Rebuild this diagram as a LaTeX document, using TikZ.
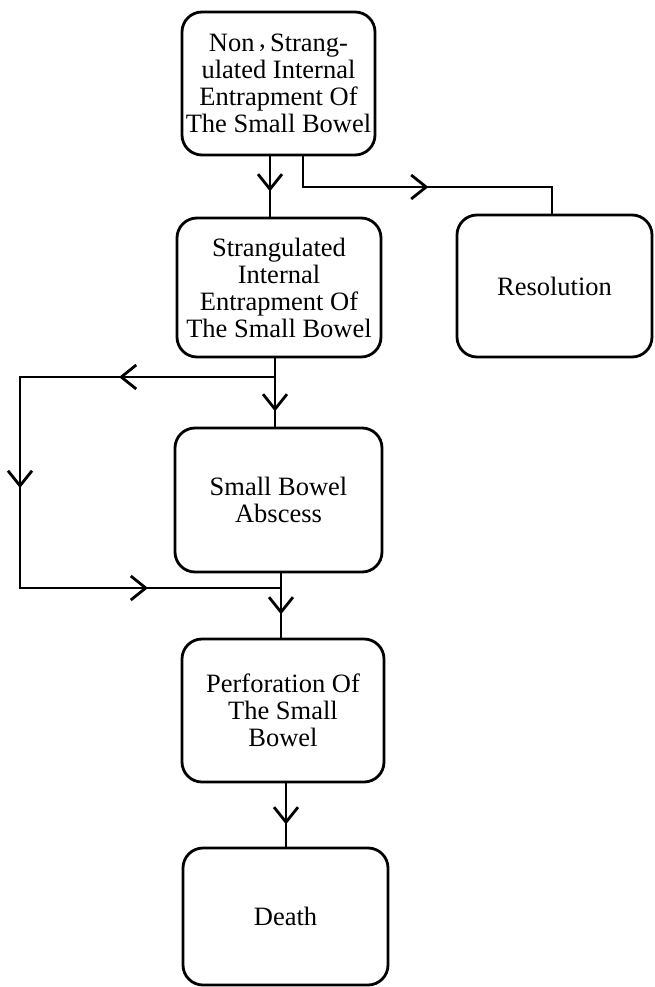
\documentclass[tikz,border=0pt]{standalone}
\usepackage{fontspec}
\setmainfont{Liberation Serif}
\usetikzlibrary{arrows.meta,decorations.markings}
\tikzset{
  stage/.style={draw, line width=2.8pt, rounded corners=20pt, align=center,
    inner sep=0pt, font=\fontsize{26.5}{27}\selectfont},
  conn/.style={line width=2.8pt, line join=miter},
  tipsat/.style={postaction={decorate}, decoration={markings,
    mark=at position #1 with {\arrow{Straight Barb[length=15pt,width=24pt]}}}},
  looptips/.style={postaction={decorate}, decoration={markings,
    mark=at position 156pt with {\arrow{Straight Barb[length=15pt,width=24pt]}},
    mark=at position 366pt with {\arrow{Straight Barb[length=15pt,width=24pt]}},
    mark=at position 594pt with {\arrow{Straight Barb[length=15pt,width=24pt]}}}},
}
\begin{document}
\begin{tikzpicture}[x=1pt,y=-1pt]
\useasboundingbox (0,0) rectangle (654,987);

% stages
\node[stage, minimum width=193pt, minimum height=143pt] (b1) at (278.5,83.5)
  {Non\,\raisebox{.35ex}{,}\,Strang-\\ulated Internal\\Entrapment Of\\The Small Bowel};
\node[stage, minimum width=204pt, minimum height=139pt] (b2) at (279,287.5)
  {Strangulated\\Internal\\Entrapment Of\\The Small Bowel};
\node[stage, minimum width=195pt, minimum height=142pt] (res) at (554.5,286)
  {Resolution};
\node[stage, minimum width=207pt, minimum height=144pt] (b3) at (278.5,500)
  {Small Bowel\\Abscess};
\node[stage, minimum width=202pt, minimum height=143pt] (b4) at (283,710.5)
  {Perforation Of\\The Small\\Bowel};
\node[stage, minimum width=205pt, minimum height=137pt] (b5) at (285.5,916.5)
  {Death};

% connector columns and turning points
\coordinate (t1) at (270,0);
\coordinate (t2) at (303,0);
\coordinate (t3) at (552,0);
\coordinate (bend) at (0,187);
\coordinate (t4) at (275,0);
\coordinate (t5) at (281,0);
\coordinate (t6) at (286,0);
\coordinate (lx) at (20,0);
\coordinate (split) at (275,377);
\coordinate (join) at (281,588);

% connectors
\draw[conn, tipsat=35pt] (t1 |- b1.south) -- (t1 |- b2.north);
\draw[conn, tipsat=156pt] (t2 |- b1.south) -- (t2 |- bend) -- (t3 |- bend) -- (t3 |- res.north);
\draw[conn, tipsat=53pt] (t4 |- b2.south) -- (t4 |- b3.north);
\draw[conn, looptips] (split) -- (lx |- split) -- (lx |- join) -- (join);
\draw[conn, tipsat=41pt] (t5 |- b3.south) -- (t5 |- b4.north);
\draw[conn, tipsat=41pt] (t6 |- b4.south) -- (t6 |- b5.north);
\end{tikzpicture}
\end{document}
